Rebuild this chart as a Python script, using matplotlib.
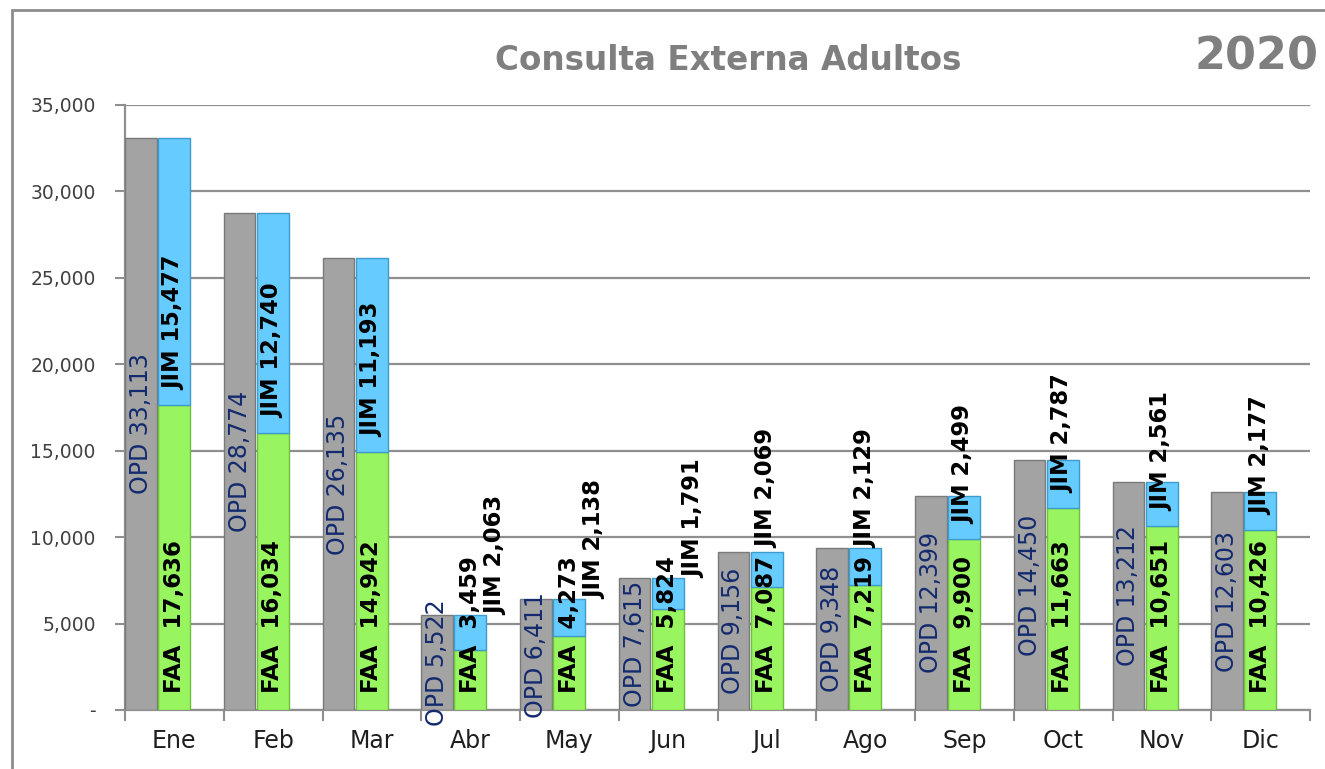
import numpy as np
import matplotlib
matplotlib.use("Agg")
import matplotlib.pyplot as plt
from matplotlib.patches import Rectangle
from matplotlib.ticker import FuncFormatter

months = ["Ene", "Feb", "Mar", "Abr", "May", "Jun", "Jul", "Ago", "Sep", "Oct", "Nov", "Dic"]
opd = [33113, 28774, 26135, 5522, 6411, 7615, 9156, 9348, 12399, 14450, 13212, 12603]
faa = [17636, 16034, 14942, 3459, 4273, 5824, 7087, 7219, 9900, 11663, 10651, 10426]
jim = [15477, 12740, 11193, 2063, 2138, 1791, 2069, 2129, 2499, 2787, 2561, 2177]

title = "Consulta Externa Adultos"
year = "2020"

plt.rcParams['font.family'] = ['DejaVu Sans']

fig = plt.figure(figsize=(13.25, 7.69), dpi=100)
ax = fig.add_axes([125/1325, 59/769, (1310-125)/1325, (710-105)/769])

x = np.arange(len(months))
gray_w = 0.32
blue_w = 0.325
gray_left = x - 0.5
blue_left = x - 0.165

ax.bar(gray_left, opd, width=gray_w, align='edge', color='#a3a3a3',
       edgecolor='#7a7a7a', linewidth=1.0, zorder=3)
ax.bar(blue_left, faa, width=blue_w, align='edge', color='#99f55f',
       edgecolor='#6fbf3f', linewidth=1.0, zorder=3)
ax.bar(blue_left, jim, width=blue_w, bottom=faa, align='edge', color='#66ccff',
       edgecolor='#3d9ccc', linewidth=1.0, zorder=3)

ax.set_xlim(-0.5, 11.5)
ax.set_ylim(0, 35000)
ax.set_yticks(np.arange(0, 35001, 5000))
ax.yaxis.set_major_formatter(FuncFormatter(lambda v, p: "-" if v == 0 else f"{int(v):,}"))
ax.grid(axis='y', color='#8f8f8f', linewidth=1.6, zorder=0)
ax.set_axisbelow(True)

ax.set_xticks(np.arange(-0.5, 12, 1))
ax.set_xticklabels([])
ax.set_xticks(x, minor=True)
ax.set_xticklabels(months, minor=True)
ax.tick_params(axis='x', which='major', length=8, width=1.5, color='#8f8f8f', direction='out')
ax.tick_params(axis='x', which='minor', length=0, pad=14, labelsize=17, labelcolor='#1e1e1e')
ax.tick_params(axis='y', length=7, width=1.5, color='#8f8f8f', labelsize=13.5,
               labelcolor='#404040', pad=14)

for s in ['top', 'right']:
    ax.spines[s].set_visible(False)
for s in ['left', 'bottom']:
    ax.spines[s].set_color('#8f8f8f')
    ax.spines[s].set_linewidth(1.6)

# outer frame
fig.patches.append(Rectangle((12/1325, -0.1), 1.2, (769-10)/769 + 0.1,
                             transform=fig.transFigure, fill=False,
                             edgecolor='#8c8c8c', linewidth=2.0))

fig.text(728/1325, 1 - 60/769, title, ha='center', va='center', fontsize=23.5,
         fontweight='bold', color='#7f7f7f')
fig.text(1319/1325, 1 - 57/769, year, ha='right', va='center', fontsize=32,
         fontweight='bold', color='#7f7f7f')

px = 35000 / 605.0  # data units per pixel

# OPD labels centered in gray bars
for i in range(len(months)):
    ax.text(gray_left[i] + gray_w / 2, opd[i] / 2, f"OPD {opd[i]:,}", rotation=90,
            ha='center', va='center', fontsize=17, color='#132a6e', zorder=5,
            clip_on=False)

# FAA labels inside base
faa_texts = []
for i in range(len(months)):
    t = ax.text(blue_left[i] + blue_w / 2, 17 * px, f"FAA  {faa[i]:,}", rotation=90,
                ha='center', va='bottom', fontsize=16.5, fontweight='bold',
                color='#000000', zorder=5)
    faa_texts.append(t)

fig.canvas.draw()
inv = ax.transData.inverted()

for i in range(len(months)):
    bb = faa_texts[i].get_window_extent()
    faa_top = inv.transform((bb.x1, bb.y1))[1]
    total = faa[i] + jim[i]
    xc = blue_left[i] + blue_w / 2
    if faa_top > total + 15 * px:
        xx = xc + 0.26
        yy = total
    else:
        xx = xc
        yy = max(faa[i] + 15 * px, faa_top + 8 * px)
    ax.text(xx, yy, f"JIM {jim[i]:,}", rotation=90, ha='center', va='bottom',
            fontsize=16.3, fontweight='bold', color='#000000', zorder=5)

fig.savefig("out.png", dpi=100)
